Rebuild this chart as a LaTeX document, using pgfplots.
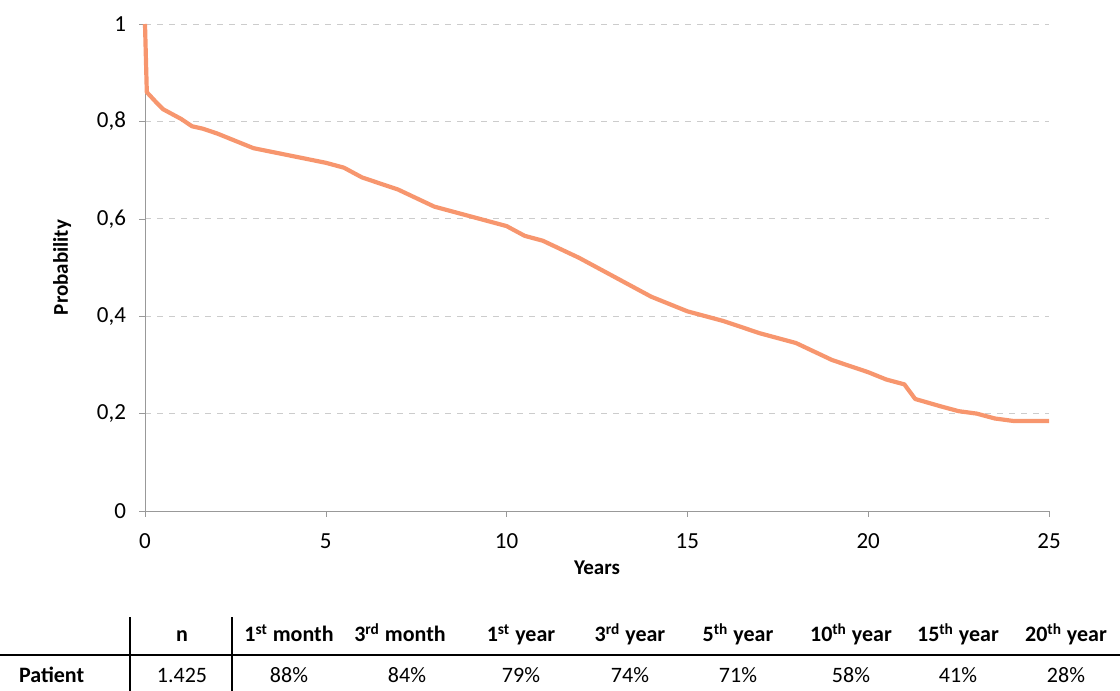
\documentclass[border=0pt]{standalone}
\usepackage{pgfplots}
\pgfplotsset{compat=1.18}
\usepackage{fontspec}
\setmainfont{Carlito}
\definecolor{curve}{RGB}{247,150,110}
\begin{document}
\begin{tikzpicture}[x=0.5pt,y=0.5pt]
\path[use as bounding box] (0,0) rectangle (1120,691);
\begin{axis}[at={(72.5pt,90pt)},anchor=origin,scale only axis,width=452pt,height=243.5pt,
  xmin=0,xmax=25,ymin=0,ymax=1,
  xtick={0,5,10,15,20,25},ytick={0,0.2,0.4,0.6,0.8,1},
  yticklabels={0,{0,2},{0,4},{0,6},{0,8},1},
  axis x line*=bottom, axis y line*=left,
  axis line style={gray!80,-}, tick style={gray!80}, tick align=outside,
  major tick length=3pt,
  ymajorgrids, grid style={dashed,gray!40},
  /pgf/number format/assume math mode=true,
  ticklabel style={font=\fontsize{11.5}{13}\selectfont},
  xticklabel style={yshift=-5pt},
  yticklabel style={xshift=-3pt},
  xlabel={\textbf{Years}}, ylabel={\textbf{Probability}},
  label style={font=\fontsize{10.5}{12}\selectfont},
  xlabel style={yshift=1pt}, ylabel style={yshift=6pt},
  clip=false]
\addplot[curve,line width=2.1pt,line join=round] coordinates {
(0,1)(0.05,0.86)(0.3,0.84)(0.5,0.825)(1,0.805)(1.3,0.79)(1.6,0.785)(2,0.775)(2.5,0.76)(3,0.745)(4,0.73)(5,0.715)(5.5,0.705)(6,0.685)(7,0.66)(8,0.625)(9,0.605)(10,0.585)(10.5,0.565)(11,0.555)(12,0.52)(12.5,0.50)(13,0.48)(14,0.44)(15,0.41)(16,0.39)(17,0.365)(18,0.345)(19,0.31)(20,0.285)(20.5,0.27)(21,0.26)(21.3,0.23)(22,0.215)(22.5,0.205)(23,0.2)(23.5,0.19)(24,0.185)(25,0.185)};
\end{axis}
\draw[line width=0.8pt] (0,36) -- (1120,36);
\draw[line width=0.8pt] (130,0) -- (130,74);
\draw[line width=0.8pt] (232,0) -- (232,74);
\begin{scope}[every node/.style={font=\fontsize{11}{12}\selectfont,anchor=base}]
\node[font=\fontsize{11}{12}\selectfont\bfseries] at (182,49) {n};
\foreach \x/\t in {289/1\textsuperscript{st} month,400/3\textsuperscript{rd} month,521/1\textsuperscript{st} year,630/3\textsuperscript{rd} year,738/5\textsuperscript{th} year,851/10\textsuperscript{th} year,958/15\textsuperscript{th} year,1066/20\textsuperscript{th} year}
  \node[font=\fontsize{11}{12}\selectfont\bfseries] at (\x,49) {\t};
\node[font=\fontsize{11}{12}\selectfont\bfseries,anchor=base west] at (12,8) {Patient};
\foreach \x/\t in {182/1.425,289/88\%,407/84\%,521/79\%,630/74\%,738/71\%,851/58\%,958/41\%,1066/28\%}
  \node at (\x,8) {\t};
\end{scope}
\end{tikzpicture}
\end{document}
